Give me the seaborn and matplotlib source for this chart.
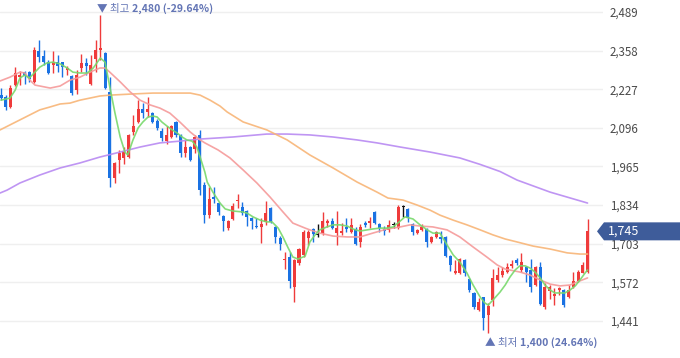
import numpy as np
import pandas as pd
import matplotlib
matplotlib.use("Agg")
import matplotlib.pyplot as plt
import matplotlib.patches as mpatches
import seaborn as sns

sns.set_theme(style="white")
plt.rcParams["font.family"] = ["Noto Sans CJK KR", "DejaVu Sans"]

# daily candles (open, high, low, close)
opens = [2207, 2201, 2167, 2241, 2269, 2285, 2285, 2252, 2357, 2340,
         2319, 2309, 2319, 2319, 2292, 2272, 2224, 2299, 2316, 2245,
         2330, 2360, 2350, 2218, 1926, 1987, 1994, 1997, 2082, 2116,
         2160, 2150, 2147, 2119, 2085, 2051, 2065, 2116, 2072, 2011,
         2031, 2024, 2072, 1902, 1800, 1861, 1841, 1797, 1756, 1787,
         1848, 1828, 1814, 1790, 1763, 1760, 1777, 1824, 1760, 1722,
         1648, 1658, 1556, 1638, 1665, 1722, 1753, 1733, 1739, 1773,
         1780, 1739, 1739, 1760, 1743, 1753, 1709, 1773, 1773, 1811,
         1770, 1753, 1750, 1767, 1756, 1828, 1821, 1770, 1739, 1750,
         1753, 1709, 1726, 1726, 1726, 1661, 1604, 1604, 1648, 1583,
         1536, 1478, 1522, 1461, 1512, 1580, 1597, 1607, 1628, 1648,
         1614, 1624, 1614, 1563, 1624, 1488, 1543, 1526, 1546, 1546,
         1522, 1556, 1577, 1604, 1607]
highs = [2231, 2207, 2241, 2302, 2289, 2289, 2289, 2370, 2394, 2360,
         2326, 2357, 2343, 2321, 2306, 2275, 2292, 2347, 2333, 2343,
         2394, 2480, 2353, 2269, 1980, 2021, 2031, 2075, 2140, 2190,
         2180, 2201, 2150, 2126, 2096, 2102, 2106, 2119, 2075, 2055,
         2035, 2072, 2089, 1912, 1895, 1895, 1844, 1800, 1783, 1841,
         1872, 1844, 1817, 1794, 1790, 1790, 1848, 1827, 1763, 1729,
         1675, 1675, 1651, 1689, 1750, 1750, 1756, 1770, 1811, 1787,
         1790, 1814, 1773, 1790, 1790, 1760, 1770, 1780, 1794, 1814,
         1773, 1763, 1783, 1777, 1834, 1834, 1824, 1773, 1753, 1770,
         1756, 1729, 1746, 1746, 1729, 1665, 1648, 1655, 1651, 1587,
         1539, 1519, 1522, 1502, 1617, 1624, 1624, 1638, 1648, 1655,
         1672, 1628, 1651, 1628, 1641, 1570, 1563, 1553, 1556, 1550,
         1563, 1607, 1614, 1641, 1787]
lows = [2190, 2157, 2163, 2238, 2241, 2245, 2252, 2248, 2319, 2309,
        2279, 2282, 2285, 2269, 2275, 2207, 2211, 2285, 2275, 2241,
        2285, 2326, 2228, 1895, 1909, 1943, 1973, 1994, 2072, 2113,
        2129, 2133, 2113, 2089, 2051, 2041, 2062, 2065, 1997, 1997,
        1984, 2011, 1868, 1773, 1790, 1841, 1800, 1746, 1750, 1783,
        1824, 1800, 1763, 1753, 1756, 1705, 1767, 1773, 1705, 1682,
        1617, 1553, 1505, 1631, 1658, 1699, 1709, 1726, 1733, 1760,
        1753, 1699, 1733, 1743, 1739, 1699, 1692, 1760, 1756, 1770,
        1743, 1733, 1743, 1756, 1753, 1794, 1777, 1733, 1736, 1746,
        1692, 1705, 1722, 1705, 1658, 1610, 1600, 1600, 1594, 1539,
        1482, 1475, 1410, 1400, 1492, 1573, 1590, 1604, 1621, 1631,
        1607, 1573, 1539, 1560, 1495, 1482, 1516, 1495, 1529, 1488,
        1519, 1553, 1573, 1604, 1604]
closes = [2197, 2167, 2231, 2282, 2275, 2272, 2262, 2360, 2336, 2319,
          2282, 2319, 2306, 2302, 2299, 2214, 2275, 2316, 2306, 2309,
          2360, 2367, 2231, 1926, 1977, 2011, 2018, 2072, 2102, 2160,
          2147, 2160, 2116, 2096, 2062, 2072, 2102, 2072, 2011, 2031,
          1987, 2065, 1885, 1800, 1855, 1855, 1811, 1780, 1780, 1831,
          1851, 1807, 1794, 1780, 1760, 1770, 1807, 1777, 1726, 1702,
          1651, 1577, 1648, 1685, 1743, 1743, 1736, 1733, 1780, 1780,
          1756, 1756, 1746, 1753, 1767, 1702, 1760, 1767, 1780, 1773,
          1756, 1746, 1767, 1767, 1828, 1828, 1790, 1743, 1750, 1760,
          1709, 1726, 1743, 1719, 1661, 1631, 1610, 1651, 1604, 1546,
          1488, 1505, 1451, 1492, 1587, 1597, 1610, 1624, 1634, 1638,
          1641, 1607, 1556, 1624, 1499, 1556, 1556, 1533, 1553, 1495,
          1546, 1577, 1607, 1631, 1745]

# moving averages (candle position, price)
ma5_pos = [0, 1.9, 3, 4, 5, 6, 7, 8.2, 9.7, 11, 12.5, 14, 15.2, 16.7, 18.2,
           19.5, 21, 22, 23, 24.1, 25.2, 26.2, 26.8, 27.9, 29, 30, 31.1, 32.1,
           33, 34, 35.1, 36.2, 37.2, 38.3, 39.3, 40.4, 41.4, 42.1, 43.1, 43.6,
           44.8, 46.3, 47.4, 49, 51, 52, 53.3, 54.8, 56.2, 57.3, 58.6, 59.6,
           60.7, 61.7, 62.8, 64.3, 65.3, 66.4, 67.4, 68.9, 70.2, 71.7, 73.2,
           74.4, 75.9, 77.4, 78.6, 80.1, 81.6, 82.9, 83.9, 85.4, 87.1, 88.6,
           90.1, 91.3, 92.8, 94.3, 95.6, 97, 98.5, 99.8, 101.3, 102.3, 103,
           104, 105.5, 106.6, 107.6, 108.7, 109.7, 110.8, 111.8, 112.9, 114,
           115, 116.1, 117.1, 118.2, 119.2, 120.3, 121.4, 122.4, 123.5, 124]
ma5_val = [2190, 2197, 2224, 2265, 2275, 2265, 2282, 2302, 2316, 2319, 2313,
           2299, 2285, 2282, 2282, 2299, 2333, 2319, 2235, 2146, 2065, 2014,
           2004, 2055, 2096, 2116, 2133, 2136, 2133, 2116, 2102, 2089, 2079,
           2065, 2055, 2051, 2031, 1997, 1946, 1912, 1878, 1841, 1821, 1814,
           1811, 1807, 1794, 1783, 1777, 1777, 1756, 1726, 1689, 1658, 1651,
           1661, 1709, 1733, 1750, 1760, 1767, 1767, 1763, 1753, 1746, 1750,
           1753, 1756, 1756, 1760, 1773, 1794, 1787, 1767, 1750, 1739, 1739,
           1699, 1665, 1641, 1604, 1563, 1522, 1502, 1495, 1512, 1539, 1563,
           1590, 1614, 1628, 1628, 1621, 1607, 1587, 1563, 1546, 1536, 1536,
           1536, 1546, 1560, 1580, 1604, 1614]

ma20_pos = [-0.2, 1.9, 4, 5.1, 6.1, 7.2, 8.2, 10.4, 12.5, 14.6, 16.7, 18.8,
            20.9, 22, 23, 25.2, 27.3, 29.4, 31.5, 33.6, 35.7, 37.8, 40, 42.1,
            43.1, 45.9, 48.4, 51.2, 54.1, 56.9, 59.6, 61.7, 64.3, 65.3, 67.4,
            70.2, 73.2, 75.9, 78.6, 81.6, 84.4, 86.5, 88.6, 91.3, 94.3, 97,
            99.8, 102.7, 104.9, 106.6, 109.7, 111.8, 114, 116.1, 118.2, 120.3,
            122.4, 124]
ma20_val = [2255, 2268, 2285, 2282, 2258, 2241, 2238, 2231, 2238, 2258, 2268,
            2285, 2299, 2299, 2285, 2252, 2218, 2190, 2174, 2163, 2146, 2116,
            2082, 2055, 2045, 2021, 1994, 1953, 1909, 1861, 1811, 1773, 1756,
            1750, 1739, 1729, 1726, 1726, 1739, 1753, 1760, 1767, 1763, 1760,
            1750, 1726, 1692, 1658, 1631, 1617, 1607, 1597, 1580, 1566, 1560,
            1563, 1577, 1587]

ma60_pos = [-0.2, 1.9, 4, 6.1, 8.2, 10.4, 12.5, 14.6, 16.7, 18.8, 20.9, 23,
            27.9, 32.1, 36.4, 40, 42.1, 44.2, 46.3, 47.8, 51.2, 56.2, 60.5,
            65.3, 70.2, 75.3, 79.5, 81.8, 85, 88, 90.7, 92.8, 95.6, 98.5,
            101.3, 104, 106.6, 109.1, 112.5, 116.1, 119.7, 122.4, 124]
ma60_val = [2089, 2106, 2123, 2140, 2157, 2167, 2177, 2180, 2190, 2197, 2204,
            2207, 2211, 2214, 2214, 2214, 2207, 2190, 2170, 2150, 2116, 2089,
            2055, 2004, 1960, 1912, 1878, 1858, 1851, 1834, 1817, 1800, 1783,
            1767, 1750, 1733, 1719, 1709, 1695, 1685, 1672, 1668, 1668]

ma120_pos = [-0.2, 1.3, 4, 8.2, 12.5, 16.7, 20.9, 25.2, 29.4, 33.6, 37.8,
             42.1, 49, 56.2, 60.5, 65.3, 70.2, 75.3, 79.5, 84.4, 90.7, 97,
             101.3, 105.5, 109.1, 116.1, 124]
ma120_val = [1875, 1885, 1909, 1936, 1960, 1977, 1997, 2014, 2031, 2045, 2051,
             2058, 2065, 2075, 2075, 2072, 2065, 2055, 2045, 2031, 2014, 1994,
             1972, 1948, 1919, 1878, 1841]

ticks = [2489, 2358, 2227, 2096, 1965, 1834, 1703, 1572, 1441]
high_idx, high_text, high_pct = 21, "2,480", "(-29.64%)"
low_idx, low_text, low_pct = 103, "1,400", "(24.64%)"
last_price = 1745

UP, DOWN, FLAT = "#ef3b3b", "#1a72e3", "#111111"
MA_COLORS = {"5": "#78d96c", "20": "#f59a9a", "60": "#f8b577", "120": "#b88af2"}
LABEL_BLUE = "#6375b5"

W, H = 680, 358
fig = plt.figure(figsize=(W / 100, H / 100), dpi=100)
ax = fig.add_axes([0, 0, 603 / W, 1])

ymax, ymin = 2529.7, 1315.4
ax.set_ylim(ymin, ymax)
ax.set_xlim(-0.21, 127.27)

for t in ticks:
    ax.axhline(t, color="#efefef", lw=1, zorder=0)

# candles
x = np.arange(len(closes))
o, h, l, c = map(np.array, (opens, highs, lows, closes))
cols = np.where(c > o, UP, np.where(c < o, DOWN, FLAT))
ax.vlines(x, l, h, colors=cols, lw=1.0, zorder=2)
body = np.maximum(np.abs(c - o), 3.5)
ax.bar(x, body, bottom=np.minimum(o, c), width=0.64, color=cols, lw=0, zorder=3)

# moving average lines
frames = []
for name, pos, val in [("120", ma120_pos, ma120_val), ("60", ma60_pos, ma60_val),
                       ("20", ma20_pos, ma20_val), ("5", ma5_pos, ma5_val)]:
    frames.append(pd.DataFrame({"pos": pos, "price": val, "ma": name}))
ma_df = pd.concat(frames, ignore_index=True)
sns.lineplot(data=ma_df, x="pos", y="price", hue="ma", palette=MA_COLORS,
             estimator=None, sort=True, legend=False, lw=1.2, alpha=0.9,
             ax=ax, zorder=4)

# axes cosmetics
for s in ax.spines.values():
    s.set_visible(False)
ax.set_xticks([])
ax.set_xlabel("")
ax.set_ylabel("")
ax.yaxis.tick_right()
ax.set_yticks(ticks)
ax.set_yticklabels([f"{t:,}" for t in ticks])
ax.tick_params(axis="y", length=0, pad=5, labelsize=8.3, labelcolor="#4a4a4a")

# high / low annotations
fig.canvas.draw()
for idx, price, head, num in [(high_idx, 2499, "▼ 최고", f"{high_text} {high_pct}"),
                              (low_idx, 1366, "▲ 최저", f"{low_text} {low_pct}")]:
    t1 = ax.annotate(head, xy=(idx, price), xytext=(-3, 0), textcoords="offset pixels",
                     ha="left", va="center", fontsize=7.6, color=LABEL_BLUE,
                     annotation_clip=False)
    fig.canvas.draw()
    wpx = t1.get_window_extent().width
    ax.annotate(num, xy=(idx, price), xytext=(-3 + wpx + 2, 0), textcoords="offset pixels",
                ha="left", va="center", fontsize=7.6, color=LABEL_BLUE,
                fontweight="bold", annotation_clip=False)

# last price tag on the right
yf = (last_price - ymin) / (ymax - ymin)
hh = 9 / H
tag = mpatches.Polygon([(597 / W, yf), (604 / W, yf + hh), (1.0, yf + hh),
                        (1.0, yf - hh), (604 / W, yf - hh)],
                       closed=True, transform=fig.transFigure,
                       facecolor="#3e5c9a", edgecolor="none", zorder=10)
fig.add_artist(tag)
fig.text(608 / W, yf, f"{last_price:,}", color="white", fontsize=9,
         ha="left", va="center", zorder=11)

fig.savefig("out.png", dpi=100)
